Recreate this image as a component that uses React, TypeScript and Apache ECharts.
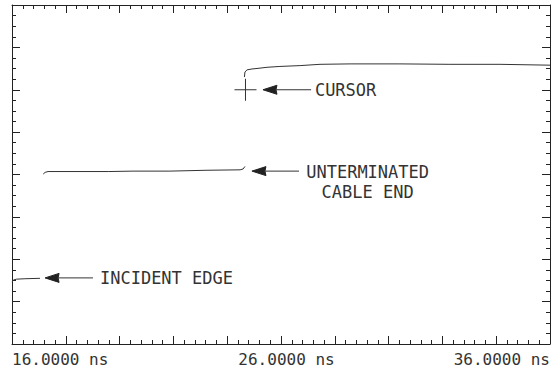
import React, { useEffect, useRef } from "react";
import * as echarts from "echarts";

// Time axis (ns) and vertical screen divisions
const xMin = 16;
const xMax = 36;
const xInterval = 2;
const yMin = 0;
const yMax = 8;
const xTickLabels = ["16.0000 ns", "26.0000 ns", "36.0000 ns"];
const xLabelValues = [16, 26, 36];

// Waveform pieces [ns, divisions]
const incidentTrace: [number, number][] = [
  [16.0, 1.46], [16.05, 1.51], [16.17, 1.53], [16.48, 1.54], [17.04, 1.55],
];
const cableTrace: [number, number][] = [
  [17.16, 4.01], [17.23, 4.05], [17.34, 4.07], [18.64, 4.07], [19.6, 4.07],
  [20.5, 4.08], [21.87, 4.08], [23.25, 4.1], [24.48, 4.11], [24.59, 4.13], [24.66, 4.19],
];
const reflectedTrace: [number, number][] = [
  [24.64, 6.3], [24.66, 6.42], [24.74, 6.47], [24.92, 6.49], [25.22, 6.51],
  [25.48, 6.53], [25.96, 6.55], [26.71, 6.57], [27.45, 6.6], [28.57, 6.61],
  [30.42, 6.61], [32.28, 6.6], [34.14, 6.6], [36.0, 6.58],
];

// Cursor marker [ns, divisions]
const cursorPoint: [number, number] = [24.68, 6.0];

// Annotations: arrow tip, tail end, label anchor (data coords)
const annotationTips: [number, number][] = [[25.33, 6.0], [24.92, 4.08], [17.23, 1.56]];
const annotationTails = [27.12, 26.67, 19.01];
const annotationTexts = [["CURSOR"], ["UNTERMINATED", "CABLE END"], ["INCIDENT EDGE"]];
const annotationTextX = [27.26, 29.22, 19.27];
const annotationTextY = [[6.0], [4.07, 3.59], [1.56]];
const annotationAlign = ["left", "center", "left"];

const INK = "#222";
const TEXT_INK = "#333";
const MONO = "'DejaVu Sans Mono', monospace";

export default function App() {
  const ref = useRef<HTMLDivElement>(null);
  useEffect(() => {
    if (!ref.current) return;
    const chart = echarts.init(ref.current, undefined, { renderer: "svg" });

    const axisCommon = {
      type: "value" as const,
      axisLine: { show: true, onZero: false, lineStyle: { color: INK, width: 1 } },
      axisTick: { show: true, inside: true, length: 8, lineStyle: { color: INK, width: 1 } },
      minorTick: { show: true, length: 4, lineStyle: { color: INK, width: 1 } },
      splitLine: { show: false },
      minorSplitLine: { show: false },
    };

    const withBreaks: (number | null)[][] = [
      ...incidentTrace,
      [null as any, null as any],
      ...cableTrace,
      [null as any, null as any],
      ...reflectedTrace,
    ];

    chart.setOption({
      animation: false,
      backgroundColor: "#fff",
      grid: { left: 12, right: 6, top: 5, bottom: 26, containLabel: false },
      xAxis: [
        {
          ...axisCommon,
          position: "bottom",
          min: xMin,
          max: xMax,
          interval: xInterval,
          minorTick: { ...axisCommon.minorTick, splitNumber: 5 },
          axisLabel: {
            show: true,
            margin: 7,
            color: TEXT_INK,
            fontFamily: MONO,
            fontSize: 16,
            alignMinLabel: "left",
            alignMaxLabel: "right",
            formatter: (v: number) => {
              const i = xLabelValues.indexOf(Math.round(v * 1000) / 1000);
              if (i < 0) return "";
              return i === 1 ? `{c|${xTickLabels[i]}}` : xTickLabels[i];
            },
            rich: {
              c: {
                color: TEXT_INK,
                fontFamily: MONO,
                fontSize: 16,
                padding: [0, 0, 0, 11],
              },
            },
          },
        },
        {
          ...axisCommon,
          position: "top",
          min: xMin,
          max: xMax,
          interval: xInterval,
          minorTick: { ...axisCommon.minorTick, splitNumber: 5 },
          axisLabel: { show: false },
        },
      ],
      yAxis: [
        {
          ...axisCommon,
          position: "left",
          min: yMin,
          max: yMax,
          interval: 1,
          minorTick: { ...axisCommon.minorTick, splitNumber: 4 },
          axisLabel: { show: false },
        },
        {
          ...axisCommon,
          position: "right",
          min: yMin,
          max: yMax,
          interval: 1,
          minorTick: { ...axisCommon.minorTick, splitNumber: 4 },
          axisLabel: { show: false },
        },
      ],
      series: [
        {
          type: "line",
          xAxisIndex: 0,
          yAxisIndex: 0,
          data: withBreaks,
          showSymbol: false,
          connectNulls: false,
          lineStyle: { color: "#333", width: 1 },
          silent: true,
        },
      ],
    });

    const px = (p: [number, number]) =>
      chart.convertToPixel({ xAxisIndex: 0, yAxisIndex: 0 }, p) as number[];

    const graphics: any[] = [];
    const c = px(cursorPoint);
    const h = 11;
    graphics.push({
      type: "line",
      shape: { x1: c[0] - h, y1: c[1], x2: c[0] + h, y2: c[1] },
      style: { stroke: "#333", lineWidth: 1 },
    });
    graphics.push({
      type: "line",
      shape: { x1: c[0], y1: c[1] - h, x2: c[0], y2: c[1] + h },
      style: { stroke: "#333", lineWidth: 1 },
    });

    annotationTips.forEach((tip, i) => {
      const t = px(tip);
      const tail = px([annotationTails[i], tip[1]]);
      graphics.push({
        type: "polygon",
        shape: {
          points: [
            [t[0], t[1]],
            [t[0] + 14, t[1] - 4.5],
            [t[0] + 13, t[1]],
            [t[0] + 14, t[1] + 4.5],
          ],
        },
        style: { fill: INK, stroke: INK, lineWidth: 1 },
      });
      graphics.push({
        type: "line",
        shape: { x1: t[0] + 12, y1: t[1], x2: tail[0], y2: t[1] },
        style: { stroke: "#333", lineWidth: 1 },
      });
      annotationTexts[i].forEach((txt, j) => {
        const p = px([annotationTextX[i], annotationTextY[i][j]]);
        graphics.push({
          type: "text",
          x: p[0],
          y: p[1],
          style: {
            text: txt,
            fill: TEXT_INK,
            font: `17px ${MONO}`,
            textAlign: annotationAlign[i],
            textVerticalAlign: "middle",
          },
        });
      });
    });

    chart.setOption({ graphic: graphics });

    return () => chart.dispose();
  }, []);

  return (
    <div
      ref={ref}
      style={{ position: "fixed", left: 0, top: 0, width: 556, height: 370 }}
    />
  );
}
